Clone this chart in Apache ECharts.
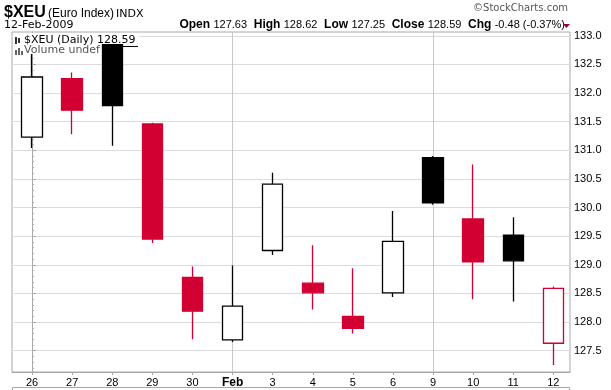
<!DOCTYPE html>
<html>
<head>
<meta charset="utf-8">
<script src="https://cdn.jsdelivr.net/npm/echarts@6/dist/echarts.min.js"></script>
<style>
html,body{margin:0;padding:0;background:#fff;}
#c{width:611px;height:390px;}
</style>
</head>
<body>
<div id="c"></div>
<script>
const categories = ['26','27','28','29','30','Feb','3','4','5','6','9','10','11','12'];
const opens  = [131.23,132.25,132.85,131.46,128.78,127.69,129.25,128.68,128.10,128.51,130.87,129.80,129.52,127.63];
const highs  = [132.68,132.36,132.86,131.48,128.97,128.99,130.61,129.34,128.94,129.94,130.90,130.75,129.83,128.62];
const lows   = [131.04,131.28,131.08,129.38,127.70,127.65,129.17,128.22,127.80,128.44,130.05,128.40,128.36,127.25];
const closes = [132.28,131.70,131.78,129.45,128.19,128.28,130.41,128.51,127.89,129.41,130.08,129.05,129.07,128.59];
const yTickLabels = [127.5,128.0,128.5,129.0,129.5,130.0,130.5,131.0,131.5,132.0,132.5,133.0];
const weekStarts = [0,5,10];

const RED = '#d20032';
const BLACK = '#000000';
const catIdx = categories.map((c,i)=>i);
const minorTicks = [];
for (let k = 1272; k <= 1330; k++) minorTicks.push(k/10);

const candleData = categories.map((c,i)=>{
  const o=opens[i], cl=closes[i];
  const prev = i>0 ? closes[i-1] : null;
  const col = (prev===null || cl>=prev) ? BLACK : RED;
  const hollow = cl > o;
  const fill = hollow ? '#ffffff' : col;
  return {
    value:[i,o,cl,lows[i],highs[i]],
    itemStyle:{color:fill,color0:fill,borderColor:col,borderColor0:col}
  };
});

const n = closes.length;
const last = closes[n-1], prevC = closes[n-2];
const chg = last - prevC;
const pct = chg/prevC*100;

const chart = echarts.init(document.getElementById('c'), null, {renderer:'canvas'});
const option = {
  animation:false,
  backgroundColor:'#ffffff',
  grid:{left:12,right:41,top:32,bottom:18,show:true,borderColor:'#a8a8a8',borderWidth:1,backgroundColor:'transparent'},
  xAxis:[{
    type:'value', min:-0.5, max:13.415, position:'bottom',
    axisLine:{show:true,lineStyle:{color:'#a8a8a8',width:1}},
    axisTick:{show:true,customValues:catIdx,length:3,lineStyle:{color:'#a8a8a8'}},
    axisLabel:{show:true,customValues:catIdx,margin:5,color:'#000',fontFamily:'Liberation Sans, Arial',fontSize:11,
      formatter:(v)=>{const s=categories[Math.round(v)]; return s==='Feb' ? '{b|Feb}' : s;},
      rich:{b:{fontWeight:'bold',fontSize:12,fontFamily:'Liberation Sans, Arial',color:'#000'}}},
    splitLine:{show:false}
  },{
    type:'value', min:-0.5, max:13.415, position:'top',
    axisLine:{show:false}, axisLabel:{show:false},
    axisTick:{show:false,customValues:weekStarts},
    splitLine:{show:true,lineStyle:{color:'#c8c8c8',width:1}}
  }],
  yAxis:[{
    type:'value', position:'right', min:127.128, max:133.066,
    axisLine:{show:true,lineStyle:{color:'#a8a8a8',width:1}},
    axisTick:{show:true,customValues:yTickLabels,length:4,lineStyle:{color:'#a8a8a8'}},
    axisLabel:{show:true,customValues:yTickLabels,margin:4,color:'#000',fontFamily:'Liberation Sans, Arial',fontSize:11,
      formatter:(v)=>v.toFixed(1)},
    splitLine:{show:true,lineStyle:{color:'#dcdcdc',width:1}}
  },{
    type:'value', position:'right', min:127.128, max:133.066,
    axisLine:{show:false}, axisLabel:{show:false}, splitLine:{show:false},
    axisTick:{show:true,customValues:minorTicks,length:2,lineStyle:{color:'#b0b0b0'}}
  }],
  series:[{
    type:'candlestick',
    xAxisIndex:0, yAxisIndex:0,
    barWidth:21,
    dimensions:['x','open','close','lowest','highest'],
    encode:{x:'x',y:['open','close','lowest','highest']},
    itemStyle:{borderWidth:1.3},
    silent:true,
    z:3,
    data:candleData
  }],
  graphic:[
    {type:'text',left:4,top:5,style:{text:'$XEU',font:'bold 16px "Liberation Sans", Arial',fill:'#000'}},
    {type:'text',left:48,top:8,style:{text:'(Euro Index)',font:'12px "Liberation Sans", Arial',fill:'#000'}},
    {type:'text',left:116,top:9,style:{text:'INDX',font:'11px "DejaVu Sans", Verdana',fill:'#000'}},
    {type:'text',left:4,top:20,style:{text:'12-Feb-2009',font:'11px "DejaVu Sans", Verdana',fill:'#000'}},
    {type:'text',right:43,top:3,style:{text:'\u00a9StockCharts.com',font:'10px "DejaVu Sans", Verdana',fill:'#555'}},
    {type:'text',right:46,top:19,style:{
      text:'{l|Open} {v|'+opens[n-1].toFixed(2)+'}  {l|High} {v|'+highs[n-1].toFixed(2)+'}  {l|Low} {v|'+lows[n-1].toFixed(2)+'}  {l|Close} {v|'+last.toFixed(2)+'}  {l|Chg} {v|'+chg.toFixed(2)+' ('+pct.toFixed(2)+'%)}',
      rich:{l:{font:'bold 12px "Liberation Sans", Arial',fill:'#000'},v:{font:'11px "Liberation Sans", Arial',fill:'#000'}}
    }},
    {type:'polygon',shape:{points:[[563,24],[570,24],[566.5,28]]},style:{fill:'#9a0030'}},
    {type:'rect',z:10,shape:{x:13,y:33,width:126,height:11},style:{fill:'#ffffff'}},
    {type:'rect',z:10,shape:{x:13,y:44,width:86,height:10},style:{fill:'#ffffff'}},
    {type:'rect',z:11,shape:{x:15,y:37,width:2,height:7},style:{fill:'#333'}},
    {type:'rect',z:11,shape:{x:18,y:38,width:2,height:5},style:{fill:'#333'}},
    {type:'text',z:11,left:24,top:35,style:{text:'$XEU (Daily) 128.59',font:'11px "DejaVu Sans", Verdana',fill:'#000'}},
    {type:'line',z:11,shape:{x1:102,y1:46.5,x2:138,y2:46.5},style:{stroke:'#000',lineWidth:1}},
    {type:'rect',z:11,shape:{x:15,y:50,width:2,height:5},style:{fill:'#666'}},
    {type:'rect',z:11,shape:{x:18,y:48,width:2,height:7},style:{fill:'#666'}},
    {type:'rect',z:11,shape:{x:21,y:51,width:2,height:4},style:{fill:'#666'}},
    {type:'text',z:11,left:24,top:45,style:{text:'Volume undef',font:'11px "DejaVu Sans", Verdana',fill:'#555'}},
    {type:'rect',shape:{x:12.5,y:387.5,width:557,height:10},style:{fill:'none',stroke:'#a8a8a8',lineWidth:1}}
  ]
};
chart.setOption(option);
</script>
</body>
</html>
